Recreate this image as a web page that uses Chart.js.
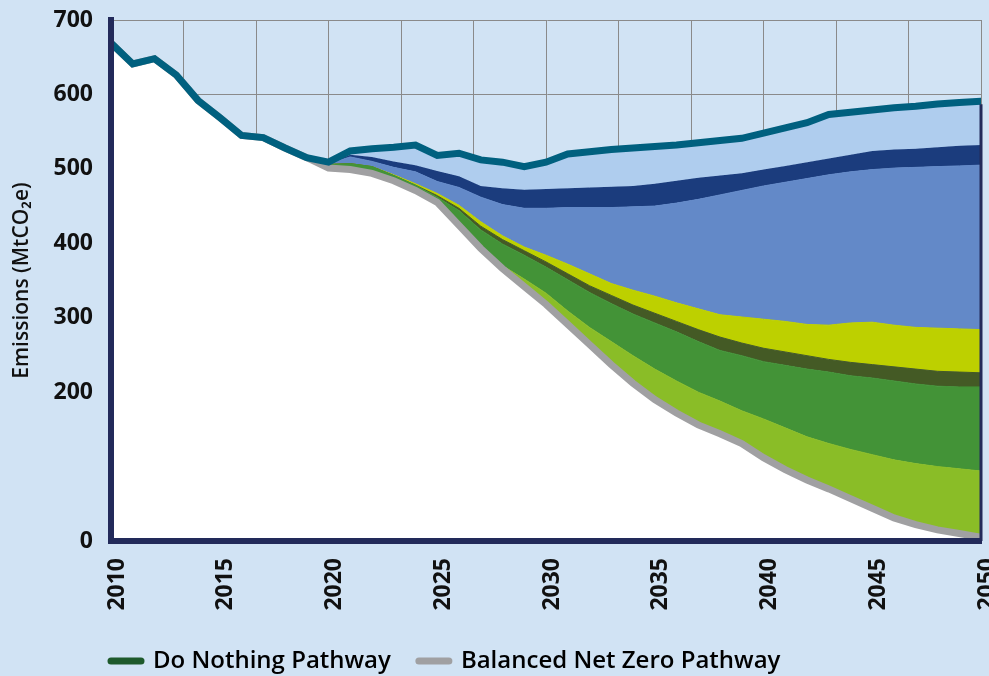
<!DOCTYPE html>
<html lang="en">
<head>
<meta charset="UTF-8">
<title>Emissions pathways 2010-2050</title>
<style>
  html, body { margin: 0; padding: 0; background: #d1e3f4; overflow: hidden; }
  #wrap { position: relative; width: 989px; height: 683px; }
</style>
</head>
<body>
<div id="wrap"><canvas id="chart"></canvas></div>

<script src="https://cdn.jsdelivr.net/npm/chart.js"></script>
<script>
  // years on the x axis
  const years = [2010, 2011, 2012, 2013, 2014, 2015, 2016, 2017, 2018, 2019,
                 2020, 2021, 2022, 2023, 2024, 2025, 2026, 2027, 2028, 2029,
                 2030, 2031, 2032, 2033, 2034, 2035, 2036, 2037, 2038, 2039,
                 2040, 2041, 2042, 2043, 2044, 2045, 2046, 2047, 2048, 2049, 2050];
  const xTicks = [2010, 2015, 2020, 2025, 2030, 2035, 2040, 2045, 2050];
  const yTicks = [0, 200, 300, 400, 500, 600, 700];

  // 2010-2019, shared by every series
  const historic = [669, 641, 648, 626, 592, 569, 545, 542, 528, 515];

  // 2020-2050, upper edge of each band (MtCO2e)
  const doNothing = [509, 524, 527, 529, 532, 518, 521, 512, 509, 503, 509, 520, 523, 526, 528, 530,
                     532, 535, 538, 541, 548, 555, 562, 573, 576, 579, 582, 584, 587, 589, 591];
  const navyTop   = [508, 519, 516, 510, 505, 497, 490, 477, 474, 472, 473, 474, 475, 476, 477, 480,
                     484, 488, 491, 494, 499, 504, 509, 514, 519, 524, 526, 527, 529, 531, 532];
  const blueTop   = [507, 516, 510, 502, 496, 483, 475, 462, 452, 447, 447, 448, 448, 448, 449, 450,
                     454, 459, 465, 471, 477, 482, 487, 492, 496, 499, 501, 502, 503, 504, 505];
  const yellowTop = [506, 507, 503, 492, 480, 467, 451, 429, 410, 395, 384, 372, 359, 346, 337, 329,
                     320, 312, 304, 301, 298, 295, 291, 290, 293, 294, 290, 287, 286, 285, 284];
  const oliveTop  = [506, 507, 503, 491, 478, 464, 447, 423, 405, 390, 375, 359, 343, 330, 317, 306,
                     295, 284, 274, 266, 259, 254, 249, 244, 240, 237, 234, 231, 228, 227, 226];
  const greenTop  = [506, 507, 503, 491, 478, 462, 444, 418, 399, 384, 368, 351, 334, 319, 305, 293,
                     281, 268, 256, 249, 241, 236, 231, 227, 222, 219, 215, 211, 208, 207, 207];
  const limeTop   = [501, 499, 494, 484, 471, 455, 424, 394, 370, 352, 333, 309, 287, 268, 249, 231,
                     215, 200, 188, 175, 164, 152, 140, 131, 123, 116, 109, 104, 100, 97, 94];
  const netZero   = [501, 499, 494, 484, 471, 455, 424, 393, 366, 342, 318, 291, 264, 237, 212, 190,
                     172, 156, 144, 131, 112, 96, 82, 70, 57, 44, 31, 22, 15, 10, 5];

  const legendNames = ['Do Nothing Pathway', 'Balanced Net Zero Pathway'];
  const legendColors = ['#1e5a2c', '#a0a0a2'];

  const axisNavy = '#222a5a';
  const gridGrey = '#8a8a8a';
  const full = arr => historic.concat(arr);

  function band(data, color, target) {
    return {
      data: full(data),
      backgroundColor: color,
      borderColor: color,
      borderWidth: 1,
      fill: target,
      pointRadius: 0
    };
  }

  // navy edge at 2050 below the top line
  const rightEdge = {
    id: 'rightEdge',
    afterDatasetsDraw(chart) {
      const meta = chart.getDatasetMeta(0);
      const last = meta.data[meta.data.length - 1];
      const x = chart.scales.x.getPixelForValue(years[years.length - 1]);
      const ctx = chart.ctx;
      ctx.save();
      ctx.strokeStyle = axisNavy;
      ctx.lineWidth = 3;
      ctx.beginPath();
      ctx.moveTo(x, last.y + 3);
      ctx.lineTo(x, chart.chartArea.bottom);
      ctx.stroke();
      ctx.restore();
    }
  };

  // start the legend under the y axis
  const legendShift = {
    id: 'legendShift',
    afterLayout(chart) {
      const lg = chart.legend;
      lg.left = chart.chartArea.left - lg.options.labels.padding;
    }
  };

  const tickFont = { family: 'Open Sans', size: 23, weight: 'bold' };

  new Chart(document.getElementById('chart'), {
    type: 'line',
    data: {
      labels: years,
      datasets: [
        {
          label: legendNames[0],
          data: full(doNothing),
          borderColor: '#00607f',
          borderWidth: 7,
          borderCapStyle: 'round',
          backgroundColor: '#afcdee',
          fill: 7,
          pointRadius: 0
        },
        {
          label: legendNames[1],
          data: full(netZero),
          borderColor: '#a0a0a2',
          borderWidth: 7,
          backgroundColor: '#ffffff',
          fill: 'origin',
          pointRadius: 0
        },
        band(limeTop, '#8abd27', 1),
        band(greenTop, '#439337', 2),
        band(oliveTop, '#445a25', 3),
        band(yellowTop, '#bdd000', 4),
        band(blueTop, '#6389c8', 5),
        band(navyTop, '#1b3c7d', 6)
      ]
    },
    options: {
      responsive: true,
      maintainAspectRatio: false,
      animation: false,
      layout: { padding: { top: 20, right: 8, left: 0, bottom: 0 } },
      elements: { line: { tension: 0 } },
      plugins: {
        tooltip: { enabled: false },
        legend: {
          position: 'bottom',
          align: 'start',
          labels: {
            usePointStyle: true,
            pointStyleWidth: 30,
            padding: 28,
            color: '#111',
            font: { family: 'Open Sans', size: 24, weight: '600' },
            generateLabels: () => legendNames.map((name, i) => ({
              text: name,
              fillStyle: legendColors[i],
              strokeStyle: legendColors[i],
              lineWidth: 7,
              lineCap: 'round',
              pointStyle: 'line',
              hidden: false,
              datasetIndex: i
            }))
          }
        }
      },
      scales: {
        x: {
          type: 'linear',
          min: years[0],
          max: years[years.length - 1],
          grid: { display: false },
          border: { color: axisNavy, width: 6, z: 1 },
          afterBuildTicks: scale => { scale.ticks = xTicks.map(v => ({ value: v })); },
          ticks: {
            minRotation: 90,
            maxRotation: 90,
            padding: 9,
            labelOffset: 6,
            color: '#111',
            font: tickFont,
            callback: v => String(v)
          },
          afterFit: scale => { scale.height = 80; scale.paddingLeft = 0; scale.paddingRight = 0; }
        },
        grid12: {
          type: 'linear',
          position: 'bottom',
          min: 0,
          max: 12,
          ticks: { display: false, stepSize: 1 },
          grid: { color: gridGrey, lineWidth: 1, drawTicks: false },
          border: { display: false },
          afterFit: scale => { scale.height = 0; scale.paddingLeft = 0; scale.paddingRight = 0; }
        },
        y: {
          min: 0,
          max: 700,
          afterBuildTicks: scale => {
            scale.ticks = [0, 100, 200, 300, 400, 500, 600, 700].map(v => ({ value: v }));
          },
          ticks: {
            padding: 18,
            color: '#111',
            font: tickFont,
            callback: v => yTicks.includes(v) ? String(v) : ''
          },
          grid: { color: gridGrey, lineWidth: 1, drawTicks: false },
          border: { color: axisNavy, width: 6, z: 1 },
          title: {
            display: true,
            text: 'Emissions (MtCO\u2082e)',
            color: '#111',
            font: { family: 'Open Sans', size: 21, weight: '600' },
            padding: { top: 9 }
          },
          afterFit: scale => { scale.width = 111; scale.paddingTop = 0; scale.paddingBottom = 0; }
        }
      }
    },
    plugins: [rightEdge, legendShift]
  });
</script>
</body>
</html>
